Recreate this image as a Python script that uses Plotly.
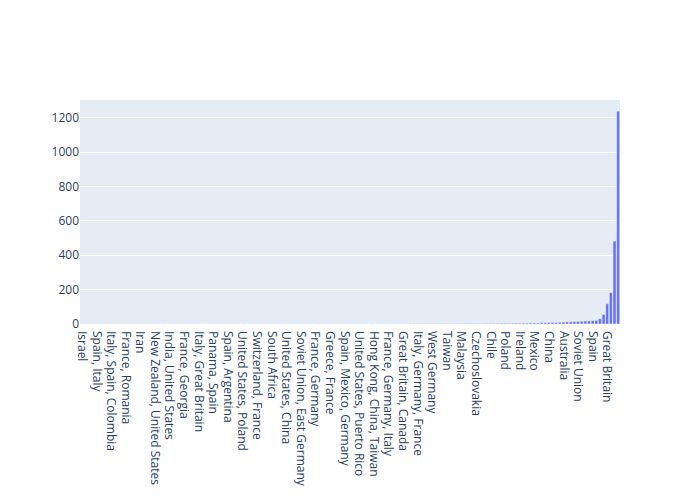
import plotly.graph_objects as go

countries = [
    "Israel", "Italy, France", "Belgium", "France, Italy, Spain",
    "Spain, Italy", "Hungary", "Great Britain, France", "Austria",
    "Italy, Spain, Colombia", "Denmark, Sweden", "Brazil, France", "Netherlands",
    "France, Romania", "Lebanon", "Finland", "Argentina",
    "Iran", "Turkey", "Senegal", "Norway",
    "New Zealand, United States", "Egypt", "Portugal, France", "Greece",
    "India, United States", "Cuba", "Philippines", "Thailand",
    "France, Georgia", "Germany, Poland", "Canada, France", "Mali",
    "Italy, Great Britain", "Switzerland", "Belgium, France", "Iceland",
    "Panama, Spain", "Algeria", "Yugoslavia", "Japan, France",
    "Spain, Argentina", "Peru", "Venezuela", "France, Belgium",
    "United States, Poland", "Romania", "Bulgaria", "Great Britain, Ireland",
    "Switzerland, France", "Colombia", "Indonesia", "Austria, Germany",
    "South Africa", "Nigeria", "Germany, France", "Tunisia",
    "United States, China", "Vietnam", "Estonia", "Sweden, Denmark",
    "Soviet Union, East Germany", "Ukraine", "Georgia", "Kazakhstan",
    "France, Germany", "Morocco", "Chad", "Bangladesh",
    "Greece, France", "Pakistan", "Iraq", "Jamaica",
    "Spain, Mexico, Germany", "Lithuania", "Latvia", "Serbia",
    "United States, Puerto Rico", "Croatia", "Bosnia", "Slovenia",
    "Hong Kong, China, Taiwan", "Sri Lanka", "Ghana", "Burkina Faso",
    "France, Germany, Italy", "Uruguay", "Bolivia", "Ecuador",
    "Great Britain, Canada", "Kenya", "Singapore", "Mongolia",
    "Italy, Germany, France", "Palestine", "Syria", "Armenia",
    "West Germany", "East Germany", "Turkey, Germany", "Russia",
    "Taiwan", "Portugal", "Brazil", "Argentina, Spain",
    "Malaysia", "Cameroon", "Hungary, France", "Netherlands, Belgium",
    "Czechoslovakia", "Belgium, Netherlands", "Norway, Sweden", "Philippines, United States",
    "Chile", "Greece, Italy", "Yugoslavia, France", "Austria, France",
    "Poland", "Finland, Sweden", "Denmark", "Czech Republic",
    "Ireland", "New Zealand", "Canada", "Iran, France",
    "Mexico", "Hong Kong", "South Korea", "Netherlands, Germany",
    "China", "Sweden", "Switzerland, Germany", "Spain, France",
    "Australia", "India", "Italy, France, Germany", "West Germany, France",
    "Soviet Union", "Great Britain, United States", "France, Italy", "United States, Great Britain",
    "Spain", "Germany", "Japan", "Italy",
    "Great Britain", "France, Great Britain", "France", "United States",
]

counts = (
    [1] * 90
    + [2] * 16
    + [3] * 8
    + [4] * 5
    + [5] * 4
    + [6] * 3
    + [7] * 2
    + [8, 9, 9, 10, 11, 12, 13, 14, 15, 16, 17, 18, 19, 21, 30, 55,
       118, 183, 482, 1238]
)

fig = go.Figure(go.Bar(x=countries, y=counts))
fig.update_layout(
    width=700, height=500, template="plotly",
    margin=dict(l=80, r=80, t=100, b=176),
)
fig.update_xaxes(tickangle=90, automargin=False, ticklabelstandoff=6)
fig.update_yaxes(automargin=False)
fig.write_html(
    "out.html",
    config={"displayModeBar": False},
    post_script="document.body.style.margin='0px';",
)
